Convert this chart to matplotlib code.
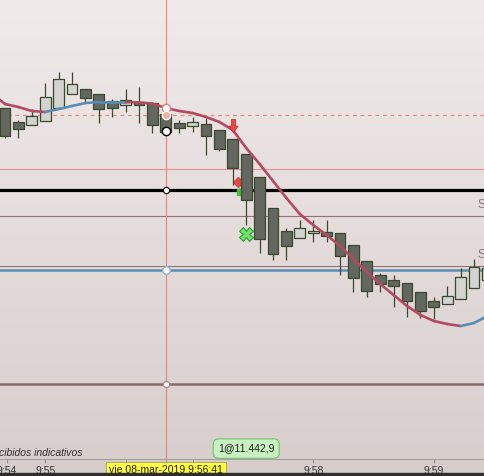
import numpy as np
import matplotlib.pyplot as plt
from matplotlib.collections import LineCollection
from matplotlib.colors import LinearSegmentedColormap
from matplotlib.path import Path

plt.rcParams['font.family'] = ['Liberation Sans', 'DejaVu Sans']

# candles (10 s bars), prices
opens = [11505.9, 11498.9, 11497.4, 11499.4, 11505.9, 11512.9, 11515.4, 11512.9, 11509.4, 11507.4,
         11508.9, 11508.4, 11502.9, 11498.4, 11496.9, 11497.9, 11494.9, 11490.4, 11482.9, 11471.4,
         11455.9, 11444.4, 11440.9, 11443.4, 11443.9, 11443.4, 11437.4, 11429.4, 11422.4, 11419.9,
         11418.4, 11413.9, 11409.4, 11407.9, 11410.4, 11415.9, 11419.9]
highs = [11505.9, 11499.9, 11505.4, 11518.4, 11523.9, 11523.9, 11515.4, 11512.9, 11510.4, 11515.4,
         11516.4, 11508.4, 11502.9, 11499.9, 11501.4, 11500.9, 11494.9, 11490.4, 11482.9, 11471.4,
         11455.9, 11445.9, 11449.9, 11449.9, 11449.9, 11443.4, 11437.4, 11429.4, 11423.4, 11422.4,
         11418.4, 11413.9, 11411.4, 11416.9, 11425.9, 11430.4, 11428.9]
lows = [11490.9, 11490.9, 11497.4, 11499.4, 11505.9, 11512.9, 11508.4, 11498.4, 11501.4, 11503.9,
        11498.4, 11493.4, 11492.4, 11493.4, 11493.9, 11482.4, 11484.4, 11467.4, 11447.4, 11433.4,
        11429.9, 11429.9, 11440.9, 11438.9, 11438.9, 11422.4, 11413.9, 11411.4, 11413.9, 11406.4,
        11401.4, 11400.9, 11400.4, 11407.9, 11410.4, 11415.9, 11419.9]
closes = [11491.9, 11495.4, 11501.9, 11511.4, 11520.4, 11517.9, 11510.9, 11505.4, 11505.9, 11509.9,
          11507.4, 11497.4, 11493.9, 11495.9, 11498.9, 11491.9, 11485.4, 11475.9, 11459.9, 11440.4,
          11432.9, 11436.9, 11445.9, 11444.4, 11441.9, 11431.9, 11420.9, 11414.4, 11417.9, 11416.9,
          11409.4, 11404.4, 11406.4, 11411.9, 11421.4, 11426.4, 11425.9]

# moving average
ma = [11507.9, 11506.4, 11504.4, 11503.9, 11505.4, 11506.9, 11508.4, 11508.9, 11508.9, 11508.9,
      11508.65, 11508.15, 11505.9, 11504.4, 11503.4, 11501.4, 11498.9, 11494.9, 11485.9, 11477.9,
      11469.4, 11460.9, 11452.9, 11447.4, 11442.4, 11436.9, 11430.4, 11423.9, 11417.9, 11412.4,
      11406.9, 11402.4, 11399.4, 11397.9, 11396.9, 11398.4, 11401.9]

# horizontal levels
level_dashed = 11502.4
level_pink = 11475.4
level_black = 11464.9
level_s1 = 11451.9
level_s2 = 11426.9
level_blue = 11424.9
level_low = 11367.9

cursor_idx = 12
tick_pos = [0.15, 3, 23, 32]
tick_labels = ['9:54', '9:55', '9:58', '9:59']
minor_pos = [9, 14]
signal_idx = 17
signal_price = 11496.9
fill_idx = 18
fill_price = 11442.9

fig = plt.figure(figsize=(4.85, 4.76), dpi=100, facecolor='#d6cdcb')
ax = fig.add_axes([0, 17 / 476, 1, 459 / 476])
ymin, ymax = 11330.4, 11559.9
xmin, xmax = -0.373, 35.82
ax.set_xlim(xmin, xmax)
ax.set_ylim(ymin, ymax)

# background gradient
cmap = LinearSegmentedColormap.from_list('bg', ['#d8cfcd', '#f0eaea'])
grad = np.linspace(0, 1, 256).reshape(-1, 1)
ax.imshow(grad, cmap=cmap, extent=[xmin, xmax, ymin, ymax], origin='lower',
          aspect='auto', zorder=0)

# levels
ax.axhline(level_dashed, color='#e38a7a', lw=0.9, ls=(0, (3, 3)), zorder=1)
ax.axhline(level_pink, color='#e8909a', lw=0.8, zorder=1)
ax.axhline(level_black, color='black', lw=2.3, zorder=1)
ax.axhline(level_s1, color='#9a7070', lw=0.8, zorder=1)
ax.axhline(level_s2, color='#9a7070', lw=0.8, zorder=1)
ax.axhline(level_blue, color='#5a8cb4', lw=1.8, zorder=1)
ax.axhline(level_low, color='#8b6a68', lw=1.8, zorder=1)
ax.text(35.28, level_s1 + 5.5, 'S1', color='#8c7474', fontsize=8.5, va='center', ha='left')
ax.text(35.28, level_s2 + 5.5, 'S2', color='#8c7474', fontsize=8.5, va='center', ha='left')

# crosshair
ax.axvline(cursor_idx, color='#f08080', lw=0.8, zorder=2)

# markers behind candles
ax.plot(17.4, 11468.9, marker='D', ms=5, color='#e04848', zorder=2)
ax.plot(17.5, 11463.9, marker='s', ms=5, color='#40c040', zorder=2)

# candles
x = np.arange(len(opens))
o = np.array(opens)
c = np.array(closes)
up = c >= o
edge = '#3a4830'
ax.vlines(x, lows, highs, color=edge, lw=0.9, zorder=3)
body_bottom = np.minimum(o, c)
body_h = np.maximum(np.abs(c - o), 0.6)
ax.bar(x, body_h, bottom=body_bottom, width=0.8,
       color=np.where(up, '#d3d3cf', '#646660'), edgecolor=edge, lw=0.9, zorder=4)

# moving average, blue when rising, red when falling
pts = np.column_stack([np.arange(len(ma)), ma])
segs = np.stack([pts[:-1], pts[1:]], axis=1)
seg_colors = ['#5a8cb4' if ma[i + 1] >= ma[i] else '#b34a62' for i in range(len(ma) - 1)]
lc = LineCollection(segs, colors=seg_colors, lw=1.9, zorder=5, capstyle='round')
ax.add_collection(lc)
ax.plot([xmin, 0], [ma[0] + 2, ma[0]], color='#b34a62', lw=1.9, zorder=5)

# crosshair points
ax.plot(cursor_idx, ma[12], 'o', ms=6, mfc='white', mec='#e08080', mew=1, zorder=6)
ax.plot(cursor_idx, level_dashed, 'o', ms=6, mfc='#f2b0a0', mec='white', mew=1, zorder=6)
ax.plot(cursor_idx, closes[12] + 0.5, 'o', ms=6, mfc='white', mec='black', mew=1, zorder=6)
ax.plot(cursor_idx, level_black, 'o', ms=4.5, mfc='white', mec='black', mew=0.8, zorder=6)
ax.plot(cursor_idx, level_blue, 'o', ms=5.5, mfc='white', mec='#8ab0d0', mew=1, zorder=6)
ax.plot(cursor_idx, level_low, 'o', ms=4.5, mfc='white', mec='#b08080', mew=0.8, zorder=6)

# sell signal arrow (down arrow marker) and fill
down_arrow = Path([(-0.28, 1.0), (0.28, 1.0), (0.28, 0.05), (0.65, 0.05), (0.0, -0.9),
                   (-0.65, 0.05), (-0.28, 0.05), (-0.28, 1.0)],
                  [Path.MOVETO] + [Path.LINETO] * 6 + [Path.CLOSEPOLY])
ax.plot(signal_idx, signal_price, marker=down_arrow, ms=10, mfc='#f04444', mec='#c83030',
        mew=0.6, zorder=7)
ax.plot(fill_idx - 0.05, fill_price, marker='X', ms=10, mfc='#70e070', mec='#30a030', mew=0.8, zorder=7)
ax.text(fill_idx, 11335.6, '1@11.442,9', fontsize=7.5, ha='center', va='center', color='#202020',
        bbox=dict(boxstyle='round,pad=0.45,rounding_size=0.5', fc='#c8f0c0', ec='#70c070', lw=0.8),
        zorder=8)

ax.text(xmin - 0.05, 11333.6, 'cibidos indicativos', fontsize=7.5, style='italic',
        color='#303030', ha='left', va='center')

# axis
for s in ['top', 'left', 'right']:
    ax.spines[s].set_visible(False)
ax.spines['bottom'].set_color('#a8a0a0')
ax.spines['bottom'].set_linewidth(0.8)
ax.set_yticks([])
ax.set_xticks(tick_pos)
ax.set_xticklabels(tick_labels)
ax.set_xticks(minor_pos + [cursor_idx], minor=True)
ax.tick_params(axis='x', which='both', length=3, color='#909090', labelsize=7.5,
               labelcolor='#333333', pad=2)
ax.xaxis.get_minorticklines()[4].set_color('black')

# cursor time label
fig.text(166 / 485, 6 / 476, 'vie 08-mar-2019 9:56:41', fontsize=7.5, ha='center', va='center',
         color='#202020', bbox=dict(boxstyle='square,pad=0.25', fc='#ffff40', ec='#a0a060', lw=0.6))
fig.patches.append(plt.Rectangle((0, 0), 1, 3 / 476, transform=fig.transFigure,
                                 color='#2e2e2e', zorder=20))

fig.savefig('out.png', dpi=100, facecolor=fig.get_facecolor())
